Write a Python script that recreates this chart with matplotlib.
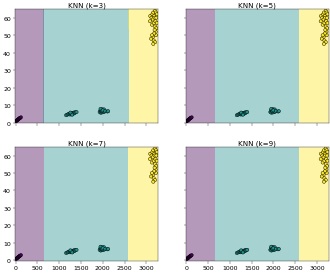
import numpy as np
import matplotlib
matplotlib.use('Agg')
import matplotlib.pyplot as plt

# 三个类别的样本点
purple_x = [15, 25, 35, 45, 50, 60, 70, 80, 90, 100, 110, 125]
purple_y = [0.8, 1.0, 1.3, 1.5, 1.4, 1.8, 2.0, 2.2, 2.4, 2.6, 2.7, 3.0]

teal_x = [1160, 1190, 1210, 1230, 1250, 1260, 1270, 1280, 1290, 1300,
          1310, 1320, 1330, 1340, 1350, 1360, 1380, 1400, 1260, 1300,
          1930, 1945, 1955, 1960, 1970, 1975, 1985, 1990, 2000, 2005,
          2010, 2020, 2030, 2040, 1950, 1980, 2000, 2060, 2110, 2125]
teal_y = [4.2, 4.5, 4.8, 5.0, 4.6, 5.3, 5.0, 4.7, 5.5, 5.1,
          4.9, 5.4, 5.6, 5.2, 5.8, 5.5, 5.9, 6.0, 5.7, 4.5,
          6.0, 6.8, 5.6, 7.4, 6.3, 7.0, 5.8, 7.6, 6.5, 7.2,
          5.9, 6.8, 7.5, 6.2, 7.8, 6.6, 7.0, 6.6, 6.3, 6.5]

yellow_x = [3090, 3120, 3140, 3160, 3180, 3200, 3220, 3240, 3085, 3150,
            3190, 3230, 3130, 3170, 3210, 3240, 3200, 3230, 3215, 3190,
            3220, 3180, 3150, 3110, 3170, 3200, 3160, 3130]
yellow_y = [61, 60, 62, 63, 61, 64, 63, 62, 58, 59,
            60, 60, 56, 57, 58, 57, 55, 54, 52, 53,
            50, 51, 49, 48, 47, 46, 45, 50]

k_values = [3, 5, 7, 9]

X = np.column_stack([purple_x + teal_x + yellow_x,
                     purple_y + teal_y + yellow_y]).astype(float)
labels = np.array([0] * len(purple_x) + [1] * len(teal_x) + [2] * len(yellow_x))


def knn_predict(points, k):
    """简单的 KNN 多数投票"""
    d = ((points[:, None, :] - X[None, :, :]) ** 2).sum(axis=2)
    idx = np.argpartition(d, k, axis=1)[:, :k]
    votes = labels[idx]
    counts = np.stack([(votes == c).sum(axis=1) for c in range(3)], axis=1)
    return counts.argmax(axis=1)


x_min, x_max = X[:, 0].min() - 30, X[:, 0].max() + 35
y_min, y_max = X[:, 1].min() - 1, X[:, 1].max() + 1
xx, yy = np.meshgrid(np.linspace(x_min, x_max, 400), np.linspace(y_min, y_max, 250))
grid = np.c_[xx.ravel(), yy.ravel()]

fig, axes = plt.subplots(2, 2, figsize=(11, 9.133), sharex=True, sharey=True)
plt.subplots_adjust(left=0.045, right=0.997, bottom=0.045, top=0.9635, wspace=0.19, hspace=0.21)

for ax, k in zip(axes.ravel(), k_values):
    Z = knn_predict(grid, k).reshape(xx.shape)
    ax.contourf(xx, yy, Z, levels=[-0.5, 0.5, 1.5, 2.5], cmap='viridis',
                vmin=0, vmax=2, alpha=0.4)
    ax.scatter(X[:, 0], X[:, 1], c=labels, cmap='viridis', vmin=0, vmax=2,
               edgecolor='k', s=60)
    ax.set_title(f'KNN (k={k})', fontsize=17)
    ax.tick_params(labelsize=15, length=6)

plt.savefig('out.png', dpi=30)
